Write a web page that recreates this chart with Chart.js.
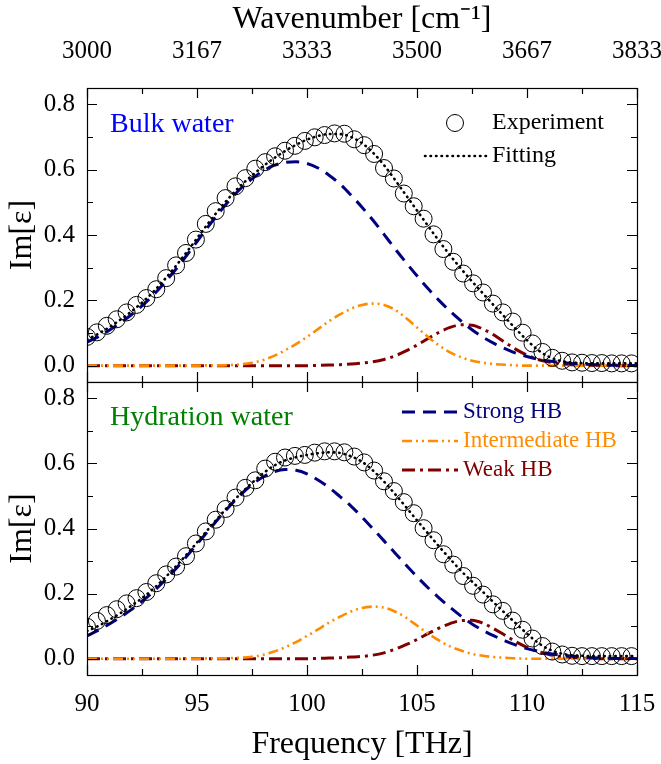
<!DOCTYPE html>
<html>
<head>
<meta charset="utf-8">
<title>Im[ε] - bulk and hydration water</title>
<script src="https://cdn.jsdelivr.net/npm/chart.js@4.4.1/dist/chart.umd.min.js"></script>
<style>
	html, body { margin: 0; padding: 0; background: #fff; }
	#wrap { position: relative; width: 661px; height: 764px; overflow: hidden; }
	canvas { position: absolute; left: 0; }
	#top { top: 0; }
	#bottom { top: 381px; }
</style>
</head>
<body>
<div id="wrap">
	<canvas id="top" width="661" height="383"></canvas>
	<canvas id="bottom" width="661" height="383"></canvas>
</div>
<script>
// measured points (THz)
const expFreq = [90.00, 90.45, 90.90, 91.35, 91.80, 92.25, 92.70, 93.15, 93.60, 94.05,
	94.50, 94.95, 95.40, 95.85, 96.30, 96.75, 97.20, 97.65, 98.10, 98.55,
	99.00, 99.45, 99.90, 100.35, 100.80, 101.25, 101.70, 102.15, 102.60, 103.05,
	103.50, 103.95, 104.40, 104.85, 105.30, 105.75, 106.20, 106.65, 107.10, 107.55,
	108.00, 108.45, 108.90, 109.35, 109.80, 110.25, 110.70, 111.15, 111.60, 112.05,
	112.50, 112.95, 113.40, 113.85, 114.30, 114.75];
const bulkExp = [0.088, 0.102, 0.122, 0.142, 0.163, 0.186, 0.207, 0.234, 0.268, 0.307,
	0.345, 0.386, 0.434, 0.473, 0.513, 0.549, 0.574, 0.603, 0.623, 0.641,
	0.658, 0.673, 0.688, 0.699, 0.706, 0.711, 0.710, 0.693, 0.675, 0.648,
	0.605, 0.573, 0.527, 0.488, 0.450, 0.402, 0.357, 0.318, 0.282, 0.252,
	0.224, 0.190, 0.163, 0.135, 0.101, 0.068, 0.042, 0.024, 0.015, 0.010,
	0.009, 0.008, 0.008, 0.007, 0.007, 0.007];
const hydExp = [0.098, 0.116, 0.134, 0.152, 0.170, 0.186, 0.205, 0.232, 0.259, 0.283,
	0.315, 0.354, 0.391, 0.427, 0.460, 0.495, 0.525, 0.548, 0.584, 0.605,
	0.618, 0.623, 0.626, 0.633, 0.637, 0.637, 0.634, 0.621, 0.603, 0.578,
	0.545, 0.515, 0.481, 0.447, 0.401, 0.364, 0.321, 0.289, 0.254, 0.224,
	0.197, 0.167, 0.147, 0.117, 0.089, 0.062, 0.039, 0.022, 0.013, 0.009,
	0.008, 0.008, 0.008, 0.008, 0.008, 0.008];

// fitted curves, read every 0.5 THz
const fitFreq = [90, 90.5, 91, 91.5, 92, 92.5, 93, 93.5, 94, 94.5,
	95, 95.5, 96, 96.5, 97, 97.5, 98, 98.5, 99, 99.5,
	100, 100.5, 101, 101.5, 102, 102.5, 103, 103.5, 104, 104.5,
	105, 105.5, 106, 106.5, 107, 107.5, 108, 108.5, 109, 109.5,
	110, 110.5, 111, 111.5, 112, 112.5, 113, 113.5, 114, 114.5, 115];

const bulkFit = [0.080, 0.097, 0.117, 0.140, 0.165, 0.193, 0.225, 0.262, 0.302, 0.345,
	0.390, 0.435, 0.478, 0.517, 0.552, 0.582, 0.610, 0.635, 0.657, 0.676,
	0.692, 0.703, 0.709, 0.709, 0.700, 0.681, 0.652, 0.614, 0.569, 0.522,
	0.475, 0.428, 0.382, 0.338, 0.297, 0.258, 0.221, 0.184, 0.148, 0.112,
	0.078, 0.048, 0.027, 0.015, 0.010, 0.008, 0.007, 0.007, 0.007, 0.007, 0.007];
const bulkStrong = [0.072, 0.088, 0.108, 0.130, 0.155, 0.183, 0.215, 0.252, 0.292, 0.335,
	0.380, 0.425, 0.468, 0.508, 0.543, 0.572, 0.596, 0.613, 0.622, 0.624,
	0.619, 0.605, 0.583, 0.556, 0.522, 0.485, 0.445, 0.402, 0.358, 0.316,
	0.275, 0.236, 0.200, 0.167, 0.137, 0.110, 0.087, 0.068, 0.052, 0.038,
	0.028, 0.020, 0.014, 0.010, 0.007, 0.005, 0.003, 0.002, 0.001, 0.001, 0.000];
const bulkInter = [0, 0, 0, 0, 0, 0, 0, 0, 0, 0,
	0, 0.001, 0.001, 0.002, 0.004, 0.009, 0.017, 0.030, 0.047, 0.066,
	0.088, 0.112, 0.136, 0.157, 0.174, 0.186, 0.190, 0.186, 0.171, 0.146,
	0.117, 0.088, 0.062, 0.041, 0.026, 0.015, 0.009, 0.005, 0.003, 0.001,
	0, 0, 0, 0, 0, 0, 0, 0, 0, 0, 0];
const bulkWeak = [0, 0, 0, 0, 0, 0, 0, 0, 0, 0,
	0, 0, 0, 0, 0, 0, 0, 0, 0, 0,
	0, 0.001, 0.002, 0.003, 0.005, 0.008, 0.012, 0.019, 0.030, 0.045,
	0.063, 0.083, 0.102, 0.117, 0.125, 0.124, 0.112, 0.094, 0.071, 0.050,
	0.032, 0.019, 0.011, 0.006, 0.003, 0.002, 0.001, 0.001, 0, 0, 0];

const hydFit = [0.085, 0.100, 0.119, 0.139, 0.162, 0.186, 0.214, 0.246, 0.281, 0.318,
	0.357, 0.397, 0.436, 0.474, 0.508, 0.540, 0.569, 0.593, 0.609, 0.619,
	0.626, 0.631, 0.634, 0.632, 0.622, 0.605, 0.578, 0.544, 0.506, 0.466,
	0.425, 0.385, 0.345, 0.307, 0.270, 0.237, 0.205, 0.172, 0.140, 0.108,
	0.077, 0.049, 0.029, 0.017, 0.011, 0.009, 0.008, 0.008, 0.008, 0.008, 0.008];
const hydStrong = [0.070, 0.087, 0.106, 0.127, 0.150, 0.176, 0.205, 0.238, 0.273, 0.312,
	0.352, 0.392, 0.432, 0.470, 0.505, 0.535, 0.558, 0.574, 0.581, 0.579,
	0.568, 0.549, 0.526, 0.498, 0.469, 0.435, 0.399, 0.362, 0.325, 0.288,
	0.252, 0.218, 0.187, 0.158, 0.131, 0.107, 0.087, 0.070, 0.055, 0.042,
	0.031, 0.023, 0.016, 0.011, 0.008, 0.005, 0.003, 0.002, 0.001, 0.001, 0];
const hydInter = [0, 0, 0, 0, 0, 0, 0, 0, 0, 0,
	0, 0.001, 0.001, 0.002, 0.003, 0.006, 0.012, 0.022, 0.035, 0.051,
	0.070, 0.090, 0.111, 0.129, 0.145, 0.156, 0.160, 0.157, 0.145, 0.126,
	0.102, 0.078, 0.056, 0.038, 0.025, 0.015, 0.009, 0.005, 0.003, 0.001,
	0, 0, 0, 0, 0, 0, 0, 0, 0, 0, 0];
const hydWeak = [0, 0, 0, 0, 0, 0, 0, 0, 0, 0,
	0, 0, 0, 0, 0, 0, 0, 0, 0, 0,
	0, 0.001, 0.002, 0.003, 0.005, 0.007, 0.011, 0.018, 0.029, 0.043,
	0.059, 0.077, 0.094, 0.108, 0.117, 0.118, 0.109, 0.092, 0.072, 0.052,
	0.035, 0.022, 0.013, 0.007, 0.004, 0.002, 0.001, 0, 0, 0, 0];

// axes
const freqTicks = [90, 95, 100, 105, 110, 115];
const freqMinor = [92.5, 97.5, 102.5, 107.5, 112.5];
const waveLabels = ['3000', '3167', '3333', '3500', '3667', '3833'];
const yTicks = [0, 0.2, 0.4, 0.6, 0.8];
const yMinor = [0.1, 0.3, 0.5, 0.7];

const FONT = "'Liberation Serif', 'Times New Roman', serif";
const NAVY = '#000080', ORANGE = '#ff8c00', MAROON = '#800000';
const DASH_STRONG = [13, 8], DASH_INTER = [10, 4, 2, 4, 2, 4], DASH_WEAK = [13, 5, 3, 5], DASH_FIT = [0.5, 5];

function pts(xs, ys) {
	return xs.map((x, i) => ({x: x, y: ys[i]}));
}

// box + inward ticks on all four sides
const frame = {
	id: 'frame',
	afterDatasetsDraw(chart) {
		const {ctx, chartArea: a, scales} = chart;
		const x = scales.x, y = scales.y;
		ctx.save();
		ctx.strokeStyle = '#000';
		ctx.lineWidth = 1.2;
		ctx.beginPath();
		const xt = (vals, len) => vals.forEach(v => {
			const px = Math.round(x.getPixelForValue(v)) + 0.5;
			ctx.moveTo(px, a.top); ctx.lineTo(px, a.top + len);
			ctx.moveTo(px, a.bottom); ctx.lineTo(px, a.bottom - len);
		});
		const yt = (vals, len) => vals.forEach(v => {
			const py = Math.round(y.getPixelForValue(v)) + 0.5;
			ctx.moveTo(a.left, py); ctx.lineTo(a.left + len, py);
			ctx.moveTo(a.right, py); ctx.lineTo(a.right - len, py);
		});
		xt(freqTicks, 10); xt(freqMinor, 6);
		yt(yTicks, 10); yt(yMinor, 6);
		ctx.stroke();
		ctx.strokeRect(a.left + 0.5, a.top + 0.5, a.right - a.left, a.bottom - a.top);
		ctx.restore();
	}
};

// panel label and hand drawn legend
const notes = {
	id: 'notes',
	afterDraw(chart, args, opts) {
		const {ctx, chartArea: a} = chart;
		ctx.save();
		ctx.textBaseline = 'middle';
		ctx.textAlign = 'left';
		ctx.font = '28px ' + FONT;
		ctx.fillStyle = opts.panel.color;
		ctx.fillText(opts.panel.text, a.left + 23, a.top + opts.panel.dy);
		ctx.font = opts.size + 'px ' + FONT;
		opts.items.forEach(it => {
			const yy = a.top + it.dy;
			ctx.strokeStyle = it.color;
			if (it.circle) {
				ctx.lineWidth = 1;
				ctx.setLineDash([]);
				ctx.beginPath();
				ctx.arc(a.left + it.cx, yy, 8.5, 0, Math.PI * 2);
				ctx.stroke();
			} else {
				ctx.lineWidth = it.width;
				ctx.lineCap = it.cap || 'butt';
				ctx.setLineDash(it.dash);
				ctx.beginPath();
				ctx.moveTo(a.left + it.x0, yy);
				ctx.lineTo(a.left + it.x1, yy);
				ctx.stroke();
			}
			ctx.fillStyle = it.textColor;
			ctx.fillText(it.text, a.left + it.tx, yy);
		});
		ctx.restore();
	}
};

function datasets(exp, fit, strong, inter, weak) {
	return [
		{label: 'Experiment', data: pts(expFreq, exp), showLine: false, pointStyle: 'circle',
			pointRadius: 8.5, pointBorderWidth: 1, pointBorderColor: '#000', pointBackgroundColor: 'rgba(0,0,0,0)'},
		{label: 'Fitting', data: pts(fitFreq, fit), borderColor: '#000', borderWidth: 2.6,
			borderDash: DASH_FIT, borderCapStyle: 'round', pointRadius: 0, cubicInterpolationMode: 'monotone'},
		{label: 'Strong HB', data: pts(fitFreq, strong), borderColor: NAVY, borderWidth: 3,
			borderDash: DASH_STRONG, pointRadius: 0, cubicInterpolationMode: 'monotone'},
		{label: 'Intermediate HB', data: pts(fitFreq, inter), borderColor: ORANGE, borderWidth: 2.6,
			borderDash: DASH_INTER, pointRadius: 0, cubicInterpolationMode: 'monotone'},
		{label: 'Weak HB', data: pts(fitFreq, weak), borderColor: MAROON, borderWidth: 3,
			borderDash: DASH_WEAK, pointRadius: 0, cubicInterpolationMode: 'monotone'}
	];
}

// fixed box sizes so both panels line up; no extra label overflow padding
function fixX(h) {
	return s => { s.height = h; s.paddingLeft = 0; s.paddingRight = 0; };
}

function yScale() {
	return {
		type: 'linear', min: -0.05, max: 0.85,
		afterFit: s => { s.width = 87; s.paddingTop = 0; s.paddingBottom = 0; },
		afterBuildTicks: s => { s.ticks = yTicks.map(v => ({value: v})); },
		grid: {display: false, drawTicks: false},
		border: {display: false},
		ticks: {color: '#000', font: {family: FONT, size: 25}, padding: 12, callback: v => v.toFixed(1)},
		title: {display: true, text: 'Im[ε]', color: '#000', font: {family: FONT, size: 32}, padding: {top: 3, bottom: 0}}
	};
}

const common = {
	responsive: false,
	animation: false,
	events: [],
	devicePixelRatio: 1
};

// top panel: bulk water, wavenumber axis on top
new Chart(document.getElementById('top'), {
	type: 'line',
	data: {datasets: datasets(bulkExp, bulkFit, bulkStrong, bulkInter, bulkWeak)},
	options: Object.assign({}, common, {
		layout: {autoPadding: false, padding: {left: 0, right: 24, top: 0, bottom: 1}},
		scales: {
			x: {
				type: 'linear', position: 'top', min: 90, max: 115,
				afterFit: fixX(88),
				afterBuildTicks: s => { s.ticks = freqTicks.map(v => ({value: v})); },
				grid: {display: false, drawTicks: false},
				border: {display: false},
				ticks: {color: '#000', font: {family: FONT, size: 25}, padding: 22, maxRotation: 0, autoSkip: false,
					callback: (v, i) => waveLabels[i]},
				title: {display: true, text: 'Wavenumber [cm⁻¹]', color: '#000', font: {family: FONT, size: 32}, padding: {top: 0, bottom: 0}}
			},
			y: yScale()
		},
		plugins: {
			legend: {display: false},
			tooltip: {enabled: false},
			notes: {
				panel: {text: 'Bulk water', color: '#0000ff', dy: 37},
				size: 24,
				items: [
					{circle: true, cx: 368, dy: 35, color: '#000', text: 'Experiment', textColor: '#000', tx: 405},
					{x0: 338, x1: 400, dy: 68, color: '#000', width: 2.6, dash: DASH_FIT, cap: 'round', text: 'Fitting', textColor: '#000', tx: 405}
				]
			}
		}
	}),
	plugins: [frame, notes]
});

// bottom panel: hydration water, frequency axis
new Chart(document.getElementById('bottom'), {
	type: 'line',
	data: {datasets: datasets(hydExp, hydFit, hydStrong, hydInter, hydWeak)},
	options: Object.assign({}, common, {
		layout: {autoPadding: false, padding: {left: 0, right: 24, top: 1, bottom: 0}},
		scales: {
			x: {
				type: 'linear', position: 'bottom', min: 90, max: 115,
				afterFit: fixX(89),
				afterBuildTicks: s => { s.ticks = freqTicks.map(v => ({value: v})); },
				grid: {display: false, drawTicks: false},
				border: {display: false},
				ticks: {color: '#000', font: {family: FONT, size: 25}, padding: 14, maxRotation: 0, autoSkip: false},
				title: {display: true, text: 'Frequency [THz]', color: '#000', font: {family: FONT, size: 32}, padding: {top: 0, bottom: 0}}
			},
			y: yScale()
		},
		plugins: {
			legend: {display: false},
			tooltip: {enabled: false},
			notes: {
				panel: {text: 'Hydration water', color: '#008000', dy: 36},
				size: 23,
				items: [
					{x0: 315, x1: 371, dy: 30, color: NAVY, width: 3, dash: DASH_STRONG, text: 'Strong HB', textColor: NAVY, tx: 376},
					{x0: 315, x1: 371, dy: 59, color: ORANGE, width: 2.6, dash: DASH_INTER, text: 'Intermediate HB', textColor: ORANGE, tx: 376},
					{x0: 315, x1: 371, dy: 88, color: MAROON, width: 3, dash: DASH_WEAK, text: 'Weak HB', textColor: MAROON, tx: 376}
				]
			}
		}
	}),
	plugins: [frame, notes]
});
</script>
</body>
</html>
